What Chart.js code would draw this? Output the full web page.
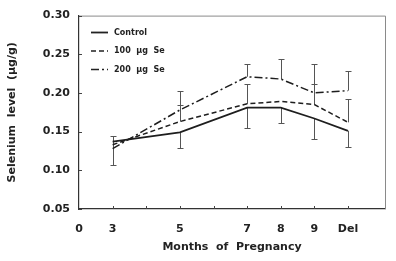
<!DOCTYPE html>
<html>
<head>
<meta charset="utf-8">
<script src="https://cdn.jsdelivr.net/npm/chart.js@4.4.1/dist/chart.umd.min.js"></script>
<style>
  html, body { margin: 0; padding: 0; background: #fff; }
  #wrap { width: 396px; height: 261px; }
</style>
</head>
<body>
<div id="wrap"><canvas id="chart"></canvas></div>
<script>
// axis positions (one step per slot), blank slots carry no label
var xLabels = ["0", "3", "", "5", "", "7", "8", "9", "Del"];
var months = ["3", "5", "7", "8", "9", "Del"];

var control = [0.137, 0.149, 0.181, 0.181, 0.167, 0.151];
var se100 = [0.133, 0.163, 0.186, 0.189, 0.185, 0.162];
var se200 = [0.128, 0.178, 0.221, 0.218, 0.200, 0.203];

// error bar lengths (control drawn downward, Se groups upward)
var controlErr = [0.030, 0.020, 0.026, 0.020, 0.026, 0.021];
var se100Err = [null, 0.021, 0.025, null, 0.026, 0.030];
var se200Err = [0.017, 0.024, 0.017, 0.026, 0.038, 0.025];

var yTicks = [0.05, 0.10, 0.15, 0.20, 0.25, 0.30];

var seriesNames = ["Control", "100  \u03bcg  Se", "200  \u03bcg  Se"];
var seriesDash = [[], [5, 3], [8, 3, 2, 3]];

function points(values) {
	return months.map(function (m, i) {
		return { x: xLabels.indexOf(m), y: values[i] };
	});
}

var errorSets = [
	{ err: controlErr, dir: -1 },
	{ err: se100Err, dir: 1 },
	{ err: se200Err, dir: 1 },
];

var font = "DejaVu Sans";

var extras = {
	id: "extras",
	beforeDatasetsDraw: function (chart) {
		var ctx = chart.ctx;
		var xs = chart.scales.x, ys = chart.scales.y;
		var area = chart.chartArea;
		ctx.save();
		// top / right frame
		ctx.strokeStyle = "#8a8a8a";
		ctx.lineWidth = 1;
		ctx.beginPath();
		ctx.moveTo(area.left, area.top + 0.5);
		ctx.lineTo(area.right + 0.5, area.top + 0.5);
		ctx.lineTo(area.right + 0.5, area.bottom);
		ctx.stroke();
		// inner ticks
		ctx.strokeStyle = "#444";
		ctx.beginPath();
		for (var k = 1; k < xLabels.length; k++) {
			var px = Math.round(xs.getPixelForValue(k)) + 0.5;
			ctx.moveTo(px, area.bottom);
			ctx.lineTo(px, area.bottom - 3);
		}
		yTicks.forEach(function (t) {
			var py = Math.round(ys.getPixelForValue(t)) + 0.5;
			ctx.moveTo(area.left, py);
			ctx.lineTo(area.left + 3, py);
		});
		ctx.stroke();
		// error bars
		ctx.strokeStyle = "#555";
		ctx.lineWidth = 1;
		chart.data.datasets.forEach(function (ds, i) {
			var set = errorSets[i];
			ds.data.forEach(function (p, j) {
				var e = set.err[j];
				if (e == null) return;
				var px = Math.round(xs.getPixelForValue(p.x)) + 0.5;
				var y0 = ys.getPixelForValue(p.y);
				var y1 = Math.round(ys.getPixelForValue(p.y + set.dir * e)) + 0.5;
				ctx.beginPath();
				ctx.moveTo(px, y0);
				ctx.lineTo(px, y1);
				ctx.moveTo(px - 3, y1);
				ctx.lineTo(px + 3, y1);
				ctx.stroke();
			});
		});
		ctx.restore();
	},
	afterDatasetsDraw: function (chart) {
		// legend inside the plot
		var ctx = chart.ctx;
		ctx.save();
		ctx.font = "bold 8px '" + font + "'";
		ctx.fillStyle = "#222";
		ctx.textBaseline = "middle";
		chart.data.datasets.forEach(function (ds, i) {
			var y = 32.5 + i * 18.5;
			ctx.strokeStyle = "#222";
			ctx.lineWidth = ds.borderWidth;
			ctx.setLineDash(seriesDash[i]);
			ctx.beginPath();
			ctx.moveTo(91, y);
			ctx.lineTo(108, y);
			ctx.stroke();
			ctx.setLineDash([]);
			ctx.fillText(seriesNames[i], 114, y);
		});
		ctx.restore();
	},
};

var datasets = [control, se100, se200].map(function (vals, i) {
	return {
		label: seriesNames[i],
		data: points(vals),
		borderColor: "#1e1e1e",
		borderWidth: i === 0 ? 1.8 : 1.5,
		borderDash: seriesDash[i],
		pointRadius: 0,
		fill: false,
		tension: 0,
	};
});

new Chart(document.getElementById("chart"), {
	type: "line",
	data: { datasets: datasets },
	options: {
		responsive: true,
		maintainAspectRatio: false,
		animation: false,
		layout: { padding: { left: 0, right: 11, top: 14, bottom: 0 } },
		plugins: { legend: { display: false }, tooltip: { enabled: false } },
		scales: {
			x: {
				type: "linear",
				min: 0,
				max: 9.1,
				afterFit: function (scale) {
					scale.height = 52;
				},
				afterBuildTicks: function (scale) {
					scale.ticks = xLabels.map(function (l, k) {
						return { value: k };
					});
				},
				grid: { display: false, drawTicks: false },
				border: { color: "#333", width: 1.2 },
				ticks: {
					padding: 14,
					color: "#222",
					font: { family: font, size: 11, weight: "bold" },
					maxRotation: 0,
					autoSkip: false,
					callback: function (v) {
						return xLabels[v] || "";
					},
				},
				title: {
					display: true,
					text: "Months  of  Pregnancy",
					color: "#222",
					font: { family: font, size: 11, weight: "bold" },
					padding: { top: 4, bottom: 7 },
				},
			},
			y: {
				min: 0.05,
				max: 0.30,
				afterFit: function (scale) {
					scale.width = 79;
				},
				afterBuildTicks: function (scale) {
					scale.ticks = yTicks.map(function (t) {
						return { value: t };
					});
				},
				grid: { display: false, drawTicks: false },
				border: { color: "#333", width: 1.2 },
				ticks: {
					padding: 9,
					color: "#222",
					font: { family: font, size: 11, weight: "bold" },
					callback: function (v) {
						return v.toFixed(2);
					},
				},
				title: {
					display: true,
					text: "Selenium  level  (\u03bcg/g)",
					color: "#222",
					font: { family: font, size: 11, weight: "bold" },
					padding: { top: 6, bottom: 0 },
				},
			},
		},
	},
	plugins: [extras],
});
</script>
</body>
</html>
